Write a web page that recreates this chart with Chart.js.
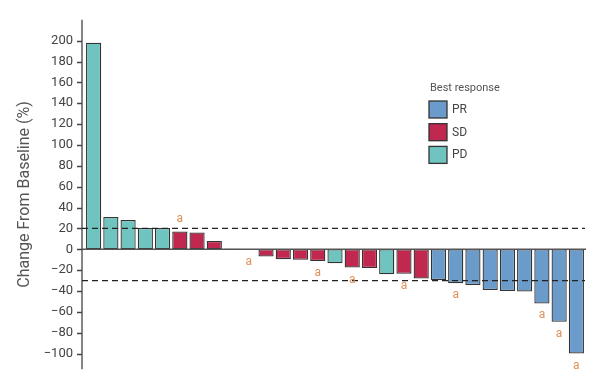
<!DOCTYPE html>
<html>
<head>
<meta charset="utf-8">
<script src="https://cdn.jsdelivr.net/npm/chart.js@4.4.0/dist/chart.umd.min.js"></script>
<style>
  html, body { margin: 0; padding: 0; background: #fff; }
  #wrap { width: 600px; height: 389px; position: relative; }
</style>
</head>
<body>
<div id="wrap"><canvas id="waterfall"></canvas></div>
<script>
// one bar per patient, sorted by best change from baseline
const patients = ['1','2','3','4','5','6','7','8','9','10','11','12','13','14','15','16','17','18','19','20','21','22','23','24','25','26','27','28','29'];
const changeFromBaseline = [198, 31, 28, 20.5, 20.5, 17, 16, 8, 0.4, -0.8, -7, -9.5, -10, -11.3, -13.5, -17.6, -18, -24, -23.6, -28, -29.6, -32.5, -34.3, -39, -40, -40.6, -52, -69.6, -100];
const bestResponse = ['PD','PD','PD','PD','PD','SD','SD','SD','SD','SD','SD','SD','SD','SD','PD','SD','SD','PD','SD','SD','PR','PR','PR','PR','PR','PR','PR','PR','PR'];
const footnote = ['','','','','','a','','','','a','','','','a','','a','','','a','','','a','','','','','a','a','a'];
const yTicks = [-100, -80, -60, -40, -20, 0, 20, 40, 60, 80, 100, 120, 140, 160, 180, 200];
const thresholds = [20, -30];

const legendTitle = 'Best response';
const responseTypes = ['PR', 'SD', 'PD'];
const responseColors = { PR: '#6b9bcb', SD: '#c1284f', PD: '#6fc4bf' };

const fontFamily = 'Roboto, "Liberation Sans", sans-serif';

// axis line, ticks, zero line, dashed thresholds, "a" marks and the legend
const extrasPlugin = {
  id: 'extras',
  afterDatasetsDraw(chart) {
    const ctx = chart.ctx;
    const area = chart.chartArea;
    const y = chart.scales.y;
    const axisX = area.left - 3;

    ctx.save();
    // y axis line + outside tick marks
    ctx.strokeStyle = '#444';
    ctx.lineWidth = 1.3;
    ctx.beginPath();
    ctx.moveTo(axisX, area.top);
    ctx.lineTo(axisX, area.bottom);
    yTicks.forEach(v => {
      const py = Math.round(y.getPixelForValue(v)) + 0.5;
      ctx.moveTo(axisX - 5, py);
      ctx.lineTo(axisX, py);
    });
    ctx.stroke();

    // zero line
    const zeroY = y.getPixelForValue(0);
    ctx.strokeStyle = '#555';
    ctx.lineWidth = 1.5;
    ctx.beginPath();
    ctx.moveTo(axisX, zeroY);
    ctx.lineTo(area.right + 1, zeroY);
    ctx.stroke();

    // threshold lines (+20 / -30)
    ctx.strokeStyle = '#222';
    ctx.lineWidth = 1.3;
    ctx.setLineDash([6, 4]);
    thresholds.forEach(v => {
      const py = y.getPixelForValue(v);
      ctx.beginPath();
      ctx.moveTo(axisX, py);
      ctx.lineTo(area.right, py);
      ctx.stroke();
    });
    ctx.setLineDash([]);

    // footnote letters above / below bars
    const meta = chart.getDatasetMeta(0);
    ctx.fillStyle = '#e0915a';
    ctx.font = '12px ' + fontFamily;
    ctx.textAlign = 'center';
    ctx.textBaseline = 'middle';
    meta.data.forEach((bar, i) => {
      if (!footnote[i]) return;
      const v = changeFromBaseline[i];
      const py = v >= 0 ? Math.min(bar.y, bar.base) - 13 : Math.max(bar.y, bar.base) + 12;
      ctx.fillText(footnote[i], bar.x, py);
    });

    // legend
    const lx = 429, ly = 88;
    ctx.textAlign = 'left';
    ctx.fillStyle = '#555';
    ctx.font = '11px ' + fontFamily;
    ctx.fillText(legendTitle, lx + 1, ly);
    responseTypes.forEach((r, i) => {
      const by = ly + 13 + i * 22.7;
      ctx.fillStyle = responseColors[r];
      ctx.fillRect(lx, by, 18, 17);
      ctx.strokeStyle = '#333';
      ctx.lineWidth = 1.3;
      ctx.strokeRect(lx, by, 18, 17);
      ctx.fillStyle = '#444';
      ctx.font = '12px ' + fontFamily;
      ctx.fillText(r, lx + 23, by + 9);
    });
    ctx.restore();
  }
};

new Chart(document.getElementById('waterfall'), {
  type: 'bar',
  data: {
    labels: patients,
    datasets: [{
      data: changeFromBaseline,
      backgroundColor: bestResponse.map(r => responseColors[r]),
      borderColor: '#333',
      borderWidth: 1.3,
      borderSkipped: false,
      barPercentage: 0.88,
      categoryPercentage: 1
    }]
  },
  options: {
    responsive: true,
    maintainAspectRatio: false,
    animation: false,
    layout: { padding: { top: 16, bottom: 19, right: 15, left: 0 } },
    plugins: {
      legend: { display: false },
      tooltip: { enabled: false }
    },
    scales: {
      x: {
        display: false,
        offset: true
      },
      y: {
        min: -115,
        max: 220,
        afterBuildTicks: axis => { axis.ticks = yTicks.map(v => ({ value: v })); },
        afterFit: axis => { axis.width = 85; },
        border: { display: false },
        grid: { display: false, drawTicks: false },
        ticks: {
          padding: 12,
          color: '#444',
          font: { family: fontFamily, size: 13 },
          callback: v => (v < 0 ? '\u2212' + Math.abs(v) : String(v))
        },
        title: {
          display: true,
          text: 'Change From Baseline (%)',
          color: '#555',
          font: { family: fontFamily, size: 16 },
          padding: { top: 15, bottom: 0 }
        }
      }
    }
  },
  plugins: [extrasPlugin]
});
</script>
</body>
</html>
